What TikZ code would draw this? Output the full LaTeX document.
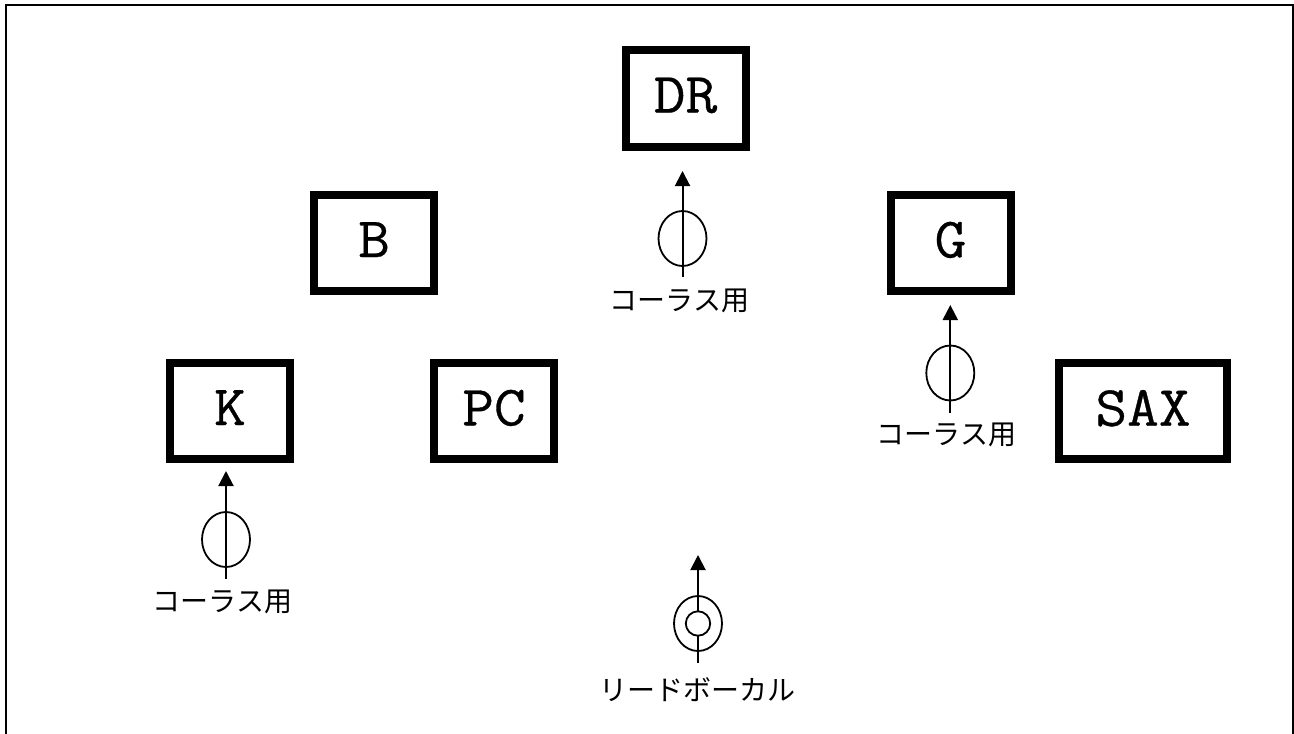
\documentclass[tikz,border=0pt]{standalone}
\usepackage{fontspec}
\newfontfamily\jpfont{Noto Sans CJK JP}
\newfontfamily\bandfont[FakeStretch=1.08,FakeBold=0.6]{Latin Modern Mono}
\usetikzlibrary{arrows.meta,shapes.geometric}
\begin{document}
\begin{tikzpicture}[x=0.5pt,y=-0.5pt]
\tikzstyle{band}=[rectangle, draw=black, line width=4pt, minimum width=60pt, minimum height=48pt, inner sep=0pt, text depth=3.4pt, font=\bandfont\fontsize{28.5}{28.5}\selectfont]
\tikzstyle{mic}=[ellipse, draw=black, line width=0.9pt, minimum width=24pt, minimum height=27.5pt, inner sep=0pt]
\tikzstyle{capsule}=[circle, draw=black, fill=white, line width=0.9pt, minimum size=12.2pt, inner sep=0pt]
\tikzstyle{connect}=[-{Triangle[length=7.5pt,width=7.5pt]}, line width=1pt]
\tikzstyle{caption}=[inner sep=0pt, font=\jpfont\fontsize{14}{14}\selectfont]
\useasboundingbox (0,0) rectangle (1294,733);
  % frame runs off the bottom of the page
  \draw[line width=1pt] (6,740) -- (6,5) -- (1293.2,5) -- (1293.2,740);
\node[band] (dr) at (685.5,98.5) {DR};
\node[band] (b) at (374,243) {B};
\node[band] (g) at (950.5,243) {G};
\node[band] (k) at (230,411) {K};
\node[band] (pc) at (494,411) {PC};
\node[band, minimum width=83.9pt] (sax) at (1143,411.3) {SAX};
  % chorus mics
\node[mic] (drmic) at (682.5,238.5) {};
\coordinate (drtail) at (682.5,277);
\coordinate (drtip) at (682.5,171);
\draw[connect] (drtail) -- (drtip);
\node[caption] (drcap) at (679.5,301) {コーラス用};
\node[mic] (gmic) at (950.3,373) {};
\coordinate (gtail) at (950.3,412.5);
\coordinate (gtip) at (950.3,305);
\draw[connect] (gtail) -- (gtip);
\node[caption] (gcap) at (946.5,434.5) {コーラス用};
\node[mic] (kmic) at (226,539.5) {};
\coordinate (ktail) at (226,579);
\coordinate (ktip) at (226,471);
\draw[connect] (ktail) -- (ktip);
\node[caption] (kcap) at (222.5,602) {コーラス用};
  % lead mic
\node[mic] (leadmic) at (698,623.5) {};
\coordinate (leadtail) at (698,663);
\coordinate (leadtip) at (698,555);
\draw[connect] (leadtail) -- (leadtip);
\node[capsule] (leadcore) at (698,623.5) {};
\node[caption] (leadcap) at (697.5,690) {リードボーカル};
\end{tikzpicture}
\end{document}
